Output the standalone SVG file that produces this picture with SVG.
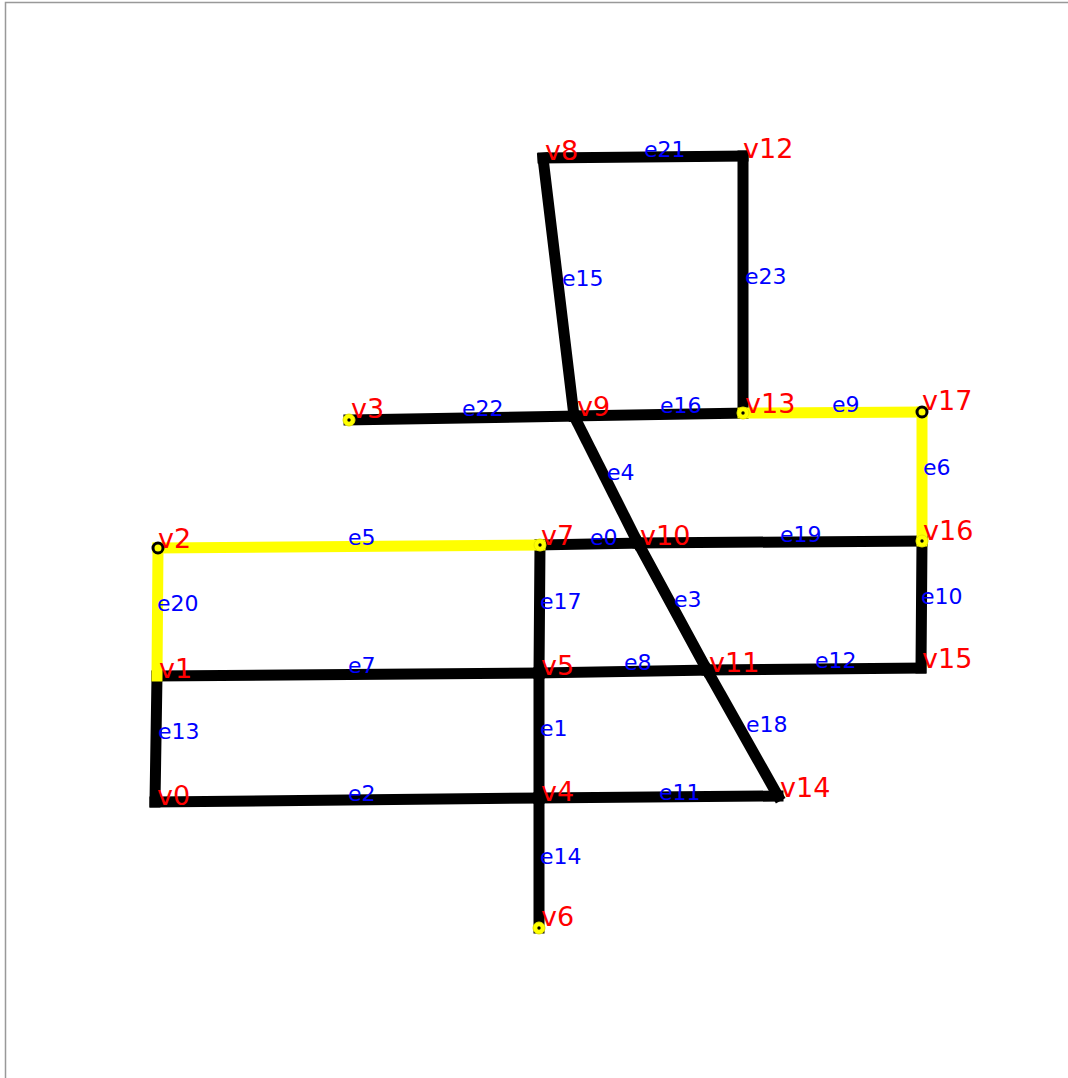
<svg xmlns="http://www.w3.org/2000/svg" width="1068" height="1078" viewBox="0 0 1068 1078">
<style>
.e{stroke:#000;stroke-width:11;stroke-linecap:square;fill:none}
.y{stroke:#ffff00;stroke-width:11;stroke-linecap:square;fill:none}
.vl{font-family:"DejaVu Sans",sans-serif;font-size:27px;fill:#ff0000}
.el{font-family:"DejaVu Sans",sans-serif;font-size:22px;fill:#0000ff}
.my{fill:#ffff00;stroke:#e8e800;stroke-width:1}
.mb{fill:#ffff00;stroke:#000;stroke-width:3}
.dot{fill:#000}
</style>
<rect x="0" y="0" width="1068" height="1078" fill="#fff"/>
<rect x="5.5" y="2.5" width="1080" height="1090" fill="none" stroke="#999" stroke-width="1.5"/>
<g id="connectors">
<line class="e" x1="540" y1="545" x2="638" y2="543"/>
<line class="e" x1="539" y1="673" x2="539" y2="798"/>
<line class="e" x1="155" y1="802" x2="539" y2="798"/>
<line class="e" x1="638" y1="543" x2="707" y2="670"/>
<line class="e" x1="574" y1="416" x2="638" y2="543"/>
<line class="e" x1="157" y1="676" x2="539" y2="673"/>
<line class="e" x1="539" y1="673" x2="707" y2="670"/>
<line class="e" x1="922" y1="541" x2="921" y2="668"/>
<line class="e" x1="539" y1="798" x2="778" y2="796"/>
<line class="e" x1="707" y1="670" x2="921" y2="668"/>
<line class="e" x1="157" y1="676" x2="155" y2="802"/>
<line class="e" x1="539" y1="798" x2="539" y2="928"/>
<line class="e" x1="543" y1="158" x2="574" y2="416"/>
<line class="e" x1="574" y1="416" x2="743" y2="413"/>
<line class="e" x1="540" y1="545" x2="539" y2="673"/>
<line class="e" x1="707" y1="670" x2="778" y2="796"/>
<line class="e" x1="638" y1="543" x2="922" y2="541"/>
<line class="e" x1="543" y1="158" x2="743" y2="156"/>
<line class="e" x1="349" y1="420" x2="574" y2="416"/>
<line class="e" x1="743" y1="156" x2="743" y2="413"/>
<line class="y" x1="158" y1="548" x2="540" y2="545"/>
<line class="y" x1="158" y1="548" x2="157" y2="676"/>
<line class="y" x1="743" y1="413" x2="922" y2="412"/>
<line class="y" x1="922" y1="412" x2="922" y2="541"/>
</g>
<g id="edge-labels">
<text class="el" x="590" y="545">e0</text>
<text class="el" x="540" y="736">e1</text>
<text class="el" x="348" y="801">e2</text>
<text class="el" x="674" y="607">e3</text>
<text class="el" x="607" y="480">e4</text>
<text class="el" x="348" y="545">e5</text>
<text class="el" x="923" y="475">e6</text>
<text class="el" x="348" y="673">e7</text>
<text class="el" x="624" y="670">e8</text>
<text class="el" x="832" y="412">e9</text>
<text class="el" x="921" y="604">e10</text>
<text class="el" x="659" y="800">e11</text>
<text class="el" x="815" y="668">e12</text>
<text class="el" x="158" y="739">e13</text>
<text class="el" x="540" y="864">e14</text>
<text class="el" x="562" y="286">e15</text>
<text class="el" x="660" y="413">e16</text>
<text class="el" x="540" y="609">e17</text>
<text class="el" x="746" y="732">e18</text>
<text class="el" x="780" y="542">e19</text>
<text class="el" x="157" y="611">e20</text>
<text class="el" x="644" y="157">e21</text>
<text class="el" x="462" y="416">e22</text>
<text class="el" x="745" y="284">e23</text>
</g>
<g id="v0"><text class="vl" x="157" y="805">v0</text></g>
<g id="v1"><text class="vl" x="159" y="678">v1</text></g>
<g id="v2"><circle class="mb" cx="158" cy="548" r="5"/><text class="vl" x="158" y="548">v2</text></g>
<g id="v3"><circle class="my" cx="349" cy="420" r="6"/><circle class="dot" cx="349" cy="420" r="1.7"/><text class="vl" x="351" y="418">v3</text></g>
<g id="v4"><text class="vl" x="541" y="801">v4</text></g>
<g id="v5"><text class="vl" x="541" y="675">v5</text></g>
<g id="v6"><circle class="my" cx="539" cy="928" r="6"/><circle class="dot" cx="539" cy="928" r="1.7"/><text class="vl" x="541" y="926">v6</text></g>
<g id="v7"><circle class="my" cx="540" cy="545" r="6"/><circle class="dot" cx="540" cy="545" r="1.7"/><text class="vl" x="541" y="545">v7</text></g>
<g id="v8"><text class="vl" x="545" y="160">v8</text></g>
<g id="v9"><text class="vl" x="577" y="416">v9</text></g>
<g id="v10"><text class="vl" x="640" y="545">v10</text></g>
<g id="v11"><text class="vl" x="709" y="672">v11</text></g>
<g id="v12"><text class="vl" x="743" y="158">v12</text></g>
<g id="v13"><circle class="my" cx="743" cy="413" r="6"/><circle class="dot" cx="743" cy="413" r="1.7"/><text class="vl" x="745" y="413">v13</text></g>
<g id="v14"><text class="vl" x="780" y="797">v14</text></g>
<g id="v15"><text class="vl" x="922" y="668">v15</text></g>
<g id="v16"><circle class="my" cx="922" cy="541" r="6"/><circle class="dot" cx="922" cy="541" r="1.7"/><text class="vl" x="923" y="540">v16</text></g>
<g id="v17"><circle class="mb" cx="922" cy="412" r="5"/><text class="vl" x="922" y="410">v17</text></g>
</svg>
